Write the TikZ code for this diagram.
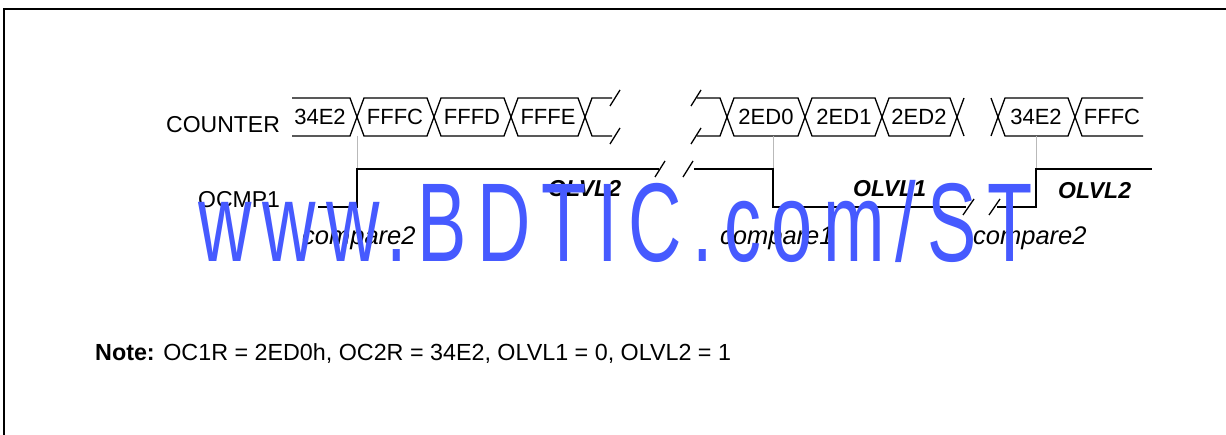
\documentclass[tikz,border=0pt]{standalone}
\usepackage{fontspec}
\setmainfont{Liberation Sans}
\newfontfamily\wmfont[LetterSpace=14.5]{Liberation Sans}
\definecolor{wmblue}{RGB}{70,90,255}
\definecolor{guide}{RGB}{185,185,185}
\tikzset{
  bus/.style={draw=black, line width=1.3pt, line join=miter},
  sig/.style={draw=black, line width=2pt},
  brk/.style={draw=black, line width=1.3pt},
  guideline/.style={draw=guide, line width=1pt},
  frame/.style={draw=black, line width=2.8pt},
  busval/.style={font=\fontsize{22}{26}\selectfont, inner sep=0pt, anchor=base},
  lbl/.style={font=\fontsize{23}{27}\selectfont, inner sep=0pt, anchor=base west},
  cmp/.style={font=\fontsize{25.5}{29}\selectfont\itshape, inner sep=0pt, anchor=base west},
  lvl/.style={font=\fontsize{23}{27}\selectfont\bfseries\itshape, inner sep=0pt, anchor=base west},
  note/.style={font=\fontsize{23.3}{28}\selectfont, inner sep=0pt, anchor=base west},
  wmark/.style={font=\fontsize{112}{120}\selectfont\wmfont, text=wmblue, inner sep=0pt, anchor=base west, xscale=0.66}
}
\begin{document}
\begin{tikzpicture}[x=1pt,y=-1pt]
\useasboundingbox (0,0) rectangle (1226,435);
% frame
\draw[frame] (4,436) -- (4,9) -- (1230,9);

% ---------- COUNTER bus, segment 1 ----------
\draw[bus] (292,98) -- (350,98) -- (357,117) -- (350,136) -- (292,136);
\draw[bus] (357,117) -- (364,98) -- (427,98) -- (434,117) -- (427,136) -- (364,136) -- cycle;
\draw[bus] (434,117) -- (441,98) -- (504,98) -- (511,117) -- (504,136) -- (441,136) -- cycle;
\draw[bus] (511,117) -- (518,98) -- (578,98) -- (585,117) -- (578,136) -- (518,136) -- cycle;
\draw[bus] (612,98) -- (592,98) -- (585,117) -- (592,136) -- (612,136);
\draw[brk] (610,106) -- (620,90);
\draw[brk] (610,144) -- (620,128);
% segment 2
\draw[brk] (691,106) -- (701,90);
\draw[brk] (691,144) -- (701,128);
\draw[bus] (697,98) -- (720,98) -- (727,117) -- (720,136) -- (697,136);
\draw[bus] (727,117) -- (734,98) -- (798,98) -- (805,117) -- (798,136) -- (734,136) -- cycle;
\draw[bus] (805,117) -- (812,98) -- (875,98) -- (882,117) -- (875,136) -- (812,136) -- cycle;
\draw[bus] (882,117) -- (889,98) -- (950,98) -- (957,117) -- (950,136) -- (889,136) -- cycle;
\draw[bus] (964,98) -- (957,117) -- (964,136);
% segment 3
\draw[bus] (991,98) -- (998,117) -- (991,136);
\draw[bus] (998,117) -- (1005,98) -- (1068,98) -- (1075,117) -- (1068,136) -- (1005,136) -- cycle;
\draw[bus] (1143,98) -- (1082,98) -- (1075,117) -- (1082,136) -- (1143,136);

% bus values
\node[busval] (v0) at (320,125) {34E2};
\node[busval] (v1) at (395,125) {FFFC};
\node[busval] (v2) at (472,125) {FFFD};
\node[busval] (v3) at (548,125) {FFFE};
\node[busval] (v4) at (766,125) {2ED0};
\node[busval] (v5) at (844,125) {2ED1};
\node[busval] (v6) at (919,125) {2ED2};
\node[busval] (v7) at (1036,125) {34E2};
\node[busval] (v8) at (1112,125) {FFFC};

% labels
\node[lbl] (counter) at (166,133) {COUNTER};
\node[lbl] (ocmp) at (198,208) {OCMP1};

% guide lines from the bus to OCMP1
\coordinate (g1t) at (357,136); \coordinate (g1b) at (357,169);
\coordinate (g2t) at (773,136); \coordinate (g2b) at (773,169);
\coordinate (g3t) at (1036,136); \coordinate (g3b) at (1036,169);
\draw[guideline] (g1t) -- (g1b);
\draw[guideline] (g2t) -- (g2b);
\draw[guideline] (g3t) -- (g3b);

% OCMP1 waveform
\draw[sig] (318,207) -- (357,207) -- (357,169) -- (659,169);
\draw[brk] (655,177) -- (665,161);
\draw[brk] (683,177) -- (693,161);
\draw[sig] (694,169) -- (773,169) -- (773,207) -- (966,207);
\draw[brk] (963,215) -- (974,199);
\draw[brk] (989,215) -- (1000,199);
\draw[sig] (997,207) -- (1036,207) -- (1036,169) -- (1152,169);

% level and compare labels
\node[lvl] (l2a) at (548,197) {OLVL2};
\node[lvl] (l1) at (853,197) {OLVL1};
\node[lvl] (l2b) at (1058,199) {OLVL2};
\node[cmp] (c2a) at (302,245) {compare2};
\node[cmp] (c1) at (720,245) {compare1};
\node[cmp] (c2b) at (973,245) {compare2};

% note
\node[note] (nt) at (95,361) {\textbf{Note:} OC1R = 2ED0h, OC2R = 34E2, OLVL1 = 0, OLVL2 = 1};

% watermark
\node[wmark] (wm) at (198,262) {www.BDTIC.com/ST};
\end{tikzpicture}
\end{document}
